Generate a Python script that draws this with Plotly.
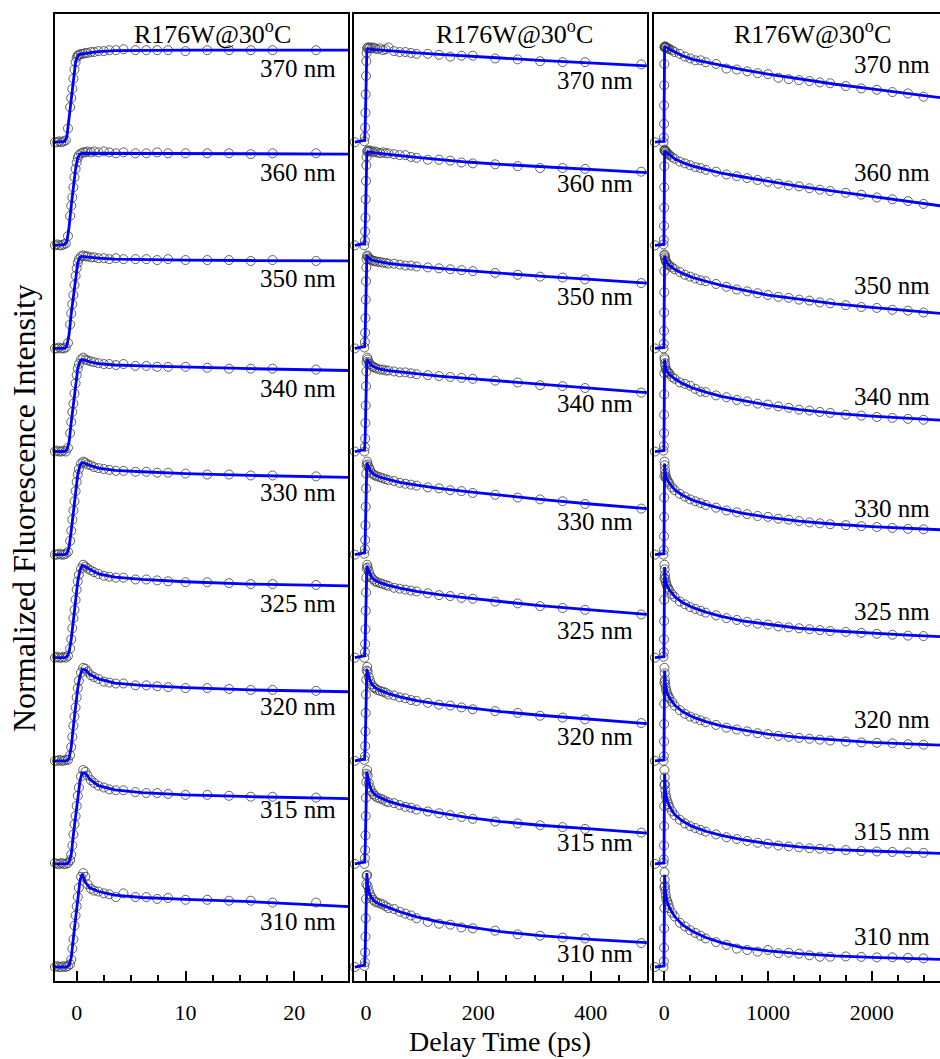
import plotly.graph_objects as go

# ---------------------------------------------------------------------------
# Femtosecond-resolved fluorescence transients of R176W at 30 °C,
# nine emission wavelengths, three delay windows (25 ps, 500 ps, 2.6 ns).
# Each transient is normalised to its peak; traces are stacked by OFFSET.
# ---------------------------------------------------------------------------
wavelengths = [310, 315, 320, 325, 330, 340, 350, 360, 370]
OFFSET = 1.12

# ----- window A: -2 .. 25 ps -------------------------------------------------
t_a = [-2.0, -1.8, -1.6, -1.4, -1.2, -1.0, -0.8, -0.6, -0.5, -0.4, -0.3, -0.2,
       -0.1, 0.0, 0.1, 0.2, 0.4, 0.6, 0.8, 1.0, 1.3, 1.6, 2.0, 2.5, 3.0, 3.6,
       4.3, 5.4, 6.4, 7.4, 8.4, 10, 12, 14, 16, 18, 22]
t_a_fit = [-2.0, -1.1, -0.9, -0.7, -0.5, -0.3, -0.1, 0.1, 0.3, 0.5, 0.8, 1.2,
           2.0, 3.5, 6, 10, 16, 25]

a370 = [0.0, 0.0, 0.01, 0.0, 0.01, 0.02, 0.15, 0.38, 0.48, 0.58, 0.69, 0.79, 0.87, 0.92, 0.94, 0.95,
        0.96, 0.96, 0.97, 0.97, 0.98, 0.98, 0.99, 0.99, 1.0, 1.0, 1.01, 1.0, 1.0, 1.0, 1.0, 0.99, 1.0, 1.0, 1.0, 1.0, 1.0]
a360 = [0, 0.01, 0, 0, 0.01, 0.02, 0.1, 0.32, 0.43, 0.52, 0.63, 0.74, 0.83, 0.9, 0.95, 0.98,
        1.0, 1.01, 1.01, 1.02, 1.01, 1.02, 1.01, 1.02, 1.01, 1.0, 1.01, 1.0, 1.0, 1.01, 1.0, 1.0, 1.0, 1.0, 0.99, 1.0, 1.0]
a350 = [0, 0, 0.01, 0, 0, 0.01, 0.06, 0.26, 0.38, 0.48, 0.58, 0.69, 0.79, 0.87, 0.93, 0.97,
        1.0, 1.01, 1.0, 1.0, 0.99, 0.99, 0.98, 0.98, 0.97, 0.98, 0.97, 0.97, 0.97, 0.96, 0.97, 0.96, 0.96, 0.96, 0.95, 0.96, 0.95]
a340 = [0, 0.01, 0, 0, 0.01, 0, 0.04, 0.2, 0.32, 0.43, 0.52, 0.63, 0.74, 0.83, 0.9, 0.95,
        1.0, 1.02, 1.0, 0.99, 0.98, 0.97, 0.96, 0.95, 0.95, 0.94, 0.95, 0.93, 0.93, 0.92, 0.92, 0.92, 0.91, 0.9, 0.9, 0.9, 0.89]
a330 = [0, 0, 0.01, 0, 0, 0.01, 0.03, 0.15, 0.26, 0.38, 0.48, 0.58, 0.69, 0.79, 0.87, 0.93,
        0.99, 1.01, 1.0, 0.98, 0.97, 0.95, 0.94, 0.93, 0.92, 0.91, 0.91, 0.9, 0.9, 0.89, 0.89, 0.88, 0.87, 0.87, 0.86, 0.86, 0.85]
a325 = [0, 0.01, 0, 0, 0.01, 0, 0.02, 0.1, 0.2, 0.32, 0.43, 0.52, 0.63, 0.74, 0.83, 0.9,
        0.97, 1.01, 0.99, 0.97, 0.95, 0.93, 0.91, 0.89, 0.88, 0.87, 0.87, 0.85, 0.85, 0.84, 0.83, 0.82, 0.82, 0.81, 0.8, 0.8, 0.79]
a320 = [0, 0, 0.01, 0, 0, 0.01, 0.01, 0.06, 0.15, 0.26, 0.38, 0.48, 0.58, 0.69, 0.79, 0.87,
        0.96, 1.01, 1.0, 0.97, 0.93, 0.91, 0.89, 0.86, 0.85, 0.84, 0.84, 0.82, 0.82, 0.81, 0.8, 0.79, 0.79, 0.78, 0.77, 0.77, 0.76]
a315 = [0.01, 0, 0, 0.01, 0, 0, 0.01, 0.04, 0.1, 0.2, 0.32, 0.43, 0.52, 0.63, 0.74, 0.83,
        0.95, 1.02, 1.0, 0.96, 0.91, 0.88, 0.85, 0.83, 0.81, 0.8, 0.8, 0.78, 0.77, 0.77, 0.76, 0.75, 0.75, 0.74, 0.73, 0.73, 0.72]
a310 = [0, 0.01, 0, 0, 0.01, 0, 0.01, 0.03, 0.08, 0.2, 0.3, 0.45, 0.56, 0.66, 0.76, 0.86,
        0.98, 1.02, 0.98, 0.9, 0.85, 0.83, 0.82, 0.8, 0.79, 0.76, 0.8, 0.76, 0.76, 0.74, 0.75, 0.73, 0.73, 0.72, 0.72, 0.7, 0.7]

a370_fit = [0, 0.01, 0.06, 0.26, 0.48, 0.69, 0.87, 0.94, 0.955, 0.96, 0.965, 0.975, 0.985, 0.995, 1.0, 1.0, 1.0, 1.0]
a360_fit = [0, 0.01, 0.04, 0.2, 0.43, 0.63, 0.83, 0.95, 0.99, 1.0, 1.0, 1.0, 1.0, 1.0, 1.0, 1.0, 0.995, 0.99]
a350_fit = [0, 0, 0.03, 0.15, 0.38, 0.58, 0.79, 0.93, 0.99, 1.0, 0.995, 0.99, 0.98, 0.97, 0.965, 0.96, 0.955, 0.95]
a340_fit = [0, 0, 0.02, 0.1, 0.32, 0.52, 0.74, 0.9, 0.98, 1.0, 0.99, 0.975, 0.955, 0.94, 0.93, 0.915, 0.9, 0.88]
a330_fit = [0, 0, 0.01, 0.08, 0.26, 0.48, 0.69, 0.87, 0.97, 1.0, 0.99, 0.97, 0.94, 0.915, 0.9, 0.88, 0.86, 0.84]
a325_fit = [0, 0, 0.01, 0.06, 0.2, 0.43, 0.63, 0.83, 0.95, 1.0, 0.99, 0.96, 0.91, 0.875, 0.85, 0.825, 0.8, 0.78]
a320_fit = [0, 0, 0, 0.03, 0.15, 0.38, 0.58, 0.79, 0.92, 0.99, 0.99, 0.94, 0.89, 0.845, 0.82, 0.795, 0.77, 0.75]
a315_fit = [0, 0, 0, 0.02, 0.1, 0.32, 0.52, 0.74, 0.9, 0.99, 0.99, 0.92, 0.85, 0.805, 0.775, 0.75, 0.73, 0.71]
a310_fit = [0, 0, 0, 0.02, 0.1, 0.32, 0.55, 0.78, 0.94, 1.01, 0.92, 0.86, 0.82, 0.78, 0.755, 0.735, 0.71, 0.655]

# ----- window B: -20 .. 500 ps ----------------------------------------------
t_b = [-20, -3, -2, -1.5, -1, -0.5, 0, 0.5, 1, 2, 3, 5, 7, 10, 13, 16, 20, 25, 30,
       35, 40, 50, 60, 70, 80, 90, 110, 130, 150, 170, 190, 230, 270, 310, 350, 390, 490]
t_b_fit = [-20, -2.5, -1.5, -0.5, 0.5, 1.5, 3, 6, 10, 16, 25, 40, 60, 90, 130, 180,
           240, 310, 400, 500]

b370 = [0, 0.01, 0.06, 0.16, 0.32, 0.52, 0.72, 0.88, 0.97,
        1.02, 1.03, 1.02, 1.03, 1.02, 1.03, 1.02, 1.01, 1.02, 1.0, 1.01, 1.03,
        0.99, 0.98, 0.98, 0.97, 0.96, 0.96, 0.95, 0.93, 0.94, 0.94,
        0.91, 0.9, 0.88, 0.87, 0.87, 0.845]
b360 = [0, 0.0, 0.05, 0.15, 0.3, 0.5, 0.7, 0.87, 0.96,
        1.02, 1.03, 1.02, 1.03, 1.02, 1.01, 1.02, 1.01, 1.0, 1.01, 1.0, 1.0,
        0.99, 0.98, 0.98, 0.96, 0.95, 0.93, 0.93, 0.92, 0.9, 0.89,
        0.88, 0.86, 0.84, 0.84, 0.83, 0.8]
b350 = [0, 0.01, 0.07, 0.17, 0.33, 0.53, 0.73, 0.88, 0.97,
        1.01, 1.0, 0.98, 0.97, 0.96, 0.95, 0.95, 0.94, 0.94, 0.93, 0.93, 0.92,
        0.92, 0.91, 0.9, 0.9, 0.89, 0.88, 0.87, 0.86, 0.85, 0.84,
        0.82, 0.8, 0.78, 0.77, 0.75, 0.71]
b340 = [0, 0.0, 0.05, 0.14, 0.31, 0.5, 0.71, 0.87, 0.97,
        1.02, 1.0, 0.97, 0.95, 0.93, 0.92, 0.91, 0.9, 0.89, 0.89, 0.88, 0.88,
        0.87, 0.86, 0.86, 0.85, 0.84, 0.83, 0.82, 0.81, 0.8, 0.79,
        0.77, 0.75, 0.72, 0.71, 0.69, 0.64]
b330 = [0, 0.01, 0.06, 0.16, 0.32, 0.52, 0.72, 0.88, 0.97,
        1.01, 0.98, 0.95, 0.92, 0.89, 0.87, 0.86, 0.85, 0.84, 0.83, 0.82, 0.81,
        0.8, 0.78, 0.77, 0.76, 0.75, 0.73, 0.72, 0.7, 0.69, 0.67,
        0.65, 0.62, 0.6, 0.58, 0.55, 0.5]
b325 = [0, 0.0, 0.06, 0.15, 0.31, 0.51, 0.71, 0.87, 0.97,
        1.01, 0.98, 0.94, 0.9, 0.87, 0.85, 0.83, 0.82, 0.81, 0.8, 0.79, 0.78,
        0.76, 0.75, 0.74, 0.73, 0.72, 0.7, 0.68, 0.67, 0.65, 0.64,
        0.61, 0.59, 0.56, 0.54, 0.52, 0.47]
b320 = [0, 0.01, 0.05, 0.16, 0.32, 0.52, 0.72, 0.88, 0.98,
        1.02, 0.97, 0.91, 0.87, 0.83, 0.8, 0.79, 0.77, 0.76, 0.75, 0.74, 0.72,
        0.71, 0.69, 0.68, 0.66, 0.65, 0.63, 0.61, 0.6, 0.58, 0.56,
        0.54, 0.52, 0.49, 0.47, 0.45, 0.41]
b315 = [0, 0.0, 0.06, 0.15, 0.31, 0.52, 0.72, 0.89, 0.98,
        1.02, 0.96, 0.88, 0.83, 0.79, 0.76, 0.74, 0.72, 0.71, 0.7, 0.68, 0.67,
        0.66, 0.64, 0.62, 0.61, 0.59, 0.57, 0.55, 0.53, 0.51, 0.49,
        0.46, 0.44, 0.42, 0.4, 0.38, 0.34]
b310 = [0, 0.01, 0.05, 0.16, 0.33, 0.53, 0.74, 0.9, 0.99,
        1.0, 0.88, 0.83, 0.79, 0.76, 0.73, 0.71, 0.7, 0.69, 0.68, 0.66, 0.64,
        0.63, 0.6, 0.58, 0.56, 0.53, 0.49, 0.47, 0.46, 0.43, 0.42,
        0.395, 0.355, 0.34, 0.32, 0.31, 0.26]

b370_fit = [0, 0.02, 0.16, 0.52, 0.88, 1.0, 1.015, 1.015, 1.01, 1.005, 1.0, 0.995, 0.985, 0.97, 0.955, 0.94, 0.915, 0.89, 0.865, 0.83]
b360_fit = [0, 0.02, 0.16, 0.52, 0.88, 1.0, 1.015, 1.015, 1.01, 1.005, 1.0, 0.99, 0.975, 0.955, 0.93, 0.905, 0.88, 0.855, 0.825, 0.79]
b350_fit = [0, 0.02, 0.16, 0.52, 0.88, 1.0, 0.995, 0.975, 0.96, 0.95, 0.94, 0.925, 0.91, 0.89, 0.87, 0.845, 0.815, 0.785, 0.75, 0.71]
b340_fit = [0, 0.02, 0.16, 0.52, 0.88, 1.0, 0.99, 0.96, 0.935, 0.915, 0.895, 0.88, 0.865, 0.845, 0.82, 0.795, 0.765, 0.73, 0.685, 0.64]
b330_fit = [0, 0.02, 0.16, 0.52, 0.88, 1.0, 0.975, 0.93, 0.895, 0.865, 0.84, 0.815, 0.785, 0.755, 0.72, 0.685, 0.645, 0.6, 0.55, 0.5]
b325_fit = [0, 0.02, 0.16, 0.52, 0.88, 1.0, 0.97, 0.92, 0.875, 0.84, 0.815, 0.785, 0.755, 0.72, 0.685, 0.65, 0.61, 0.565, 0.52, 0.47]
b320_fit = [0, 0.02, 0.16, 0.52, 0.88, 1.0, 0.96, 0.89, 0.835, 0.795, 0.765, 0.73, 0.695, 0.655, 0.615, 0.575, 0.535, 0.495, 0.45, 0.405]
b315_fit = [0, 0.02, 0.16, 0.52, 0.88, 1.0, 0.95, 0.86, 0.795, 0.75, 0.72, 0.68, 0.645, 0.6, 0.555, 0.505, 0.46, 0.42, 0.38, 0.335]
b310_fit = [0, 0.02, 0.16, 0.55, 0.9, 1.02, 0.9, 0.8, 0.75, 0.71, 0.68, 0.645, 0.6, 0.545, 0.49, 0.44, 0.385, 0.34, 0.3, 0.265]

# ----- window C: -90 .. 2660 ps ---------------------------------------------
t_c = [-90, -8, -4, -2, -1, 0, 1, 2, 4, 7, 10, 15, 20, 30, 40, 50, 75, 100, 150,
       200, 250, 300, 350, 400, 500, 600, 700, 800, 900, 1000, 1100, 1200, 1300,
       1400, 1500, 1600, 1750, 1900, 2050, 2200, 2350, 2500]
t_c_fit = [-90, -3, -1, 1, 3, 10, 25, 50, 100, 175, 275, 400, 550, 750, 1000, 1300,
           1650, 2000, 2350, 2660]

c370 = [0, 0.0, 0.05, 0.2, 0.4, 0.62, 0.85,
        1.03, 1.04, 1.03, 1.04, 1.03, 1.03, 1.02, 1.02, 1.01,
        1.0, 0.98, 0.96, 0.93, 0.91, 0.89, 0.89, 0.87,
        0.85, 0.8, 0.79, 0.77, 0.75, 0.74, 0.7, 0.685, 0.675, 0.665, 0.65, 0.64,
        0.61, 0.585, 0.57, 0.545, 0.53, 0.495]
c360 = [0, 0.01, 0.06, 0.21, 0.41, 0.63, 0.86,
        1.03, 1.04, 1.03, 1.02, 1.02, 1.01, 1.0, 0.99, 0.98,
        0.96, 0.94, 0.91, 0.89, 0.87, 0.85, 0.84, 0.82,
        0.8, 0.77, 0.75, 0.73, 0.71, 0.69, 0.67, 0.65, 0.64, 0.62, 0.605, 0.59,
        0.57, 0.55, 0.52, 0.5, 0.48, 0.45]
c350 = [0, 0.0, 0.05, 0.19, 0.39, 0.61, 0.84,
        1.02, 1.01, 0.99, 0.97, 0.95, 0.94, 0.92, 0.91, 0.9,
        0.88, 0.86, 0.83, 0.8, 0.78, 0.76, 0.74, 0.73,
        0.7, 0.67, 0.64, 0.62, 0.6, 0.58, 0.56, 0.55, 0.53, 0.52, 0.5, 0.49,
        0.47, 0.45, 0.44, 0.42, 0.41, 0.39]
c340 = [0, 0.01, 0.06, 0.2, 0.4, 0.62, 0.85,
        1.02, 1.0, 0.96, 0.93, 0.9, 0.88, 0.87, 0.86, 0.845,
        0.81, 0.79, 0.75, 0.735, 0.715, 0.68, 0.65, 0.645,
        0.61, 0.59, 0.56, 0.545, 0.52, 0.51, 0.49, 0.475, 0.455, 0.445, 0.43, 0.42,
        0.4, 0.39, 0.375, 0.365, 0.355, 0.345]
c330 = [0, 0.0, 0.05, 0.2, 0.41, 0.62, 0.85,
        1.01, 0.97, 0.92, 0.88, 0.85, 0.83, 0.81, 0.79, 0.77,
        0.73, 0.7, 0.66, 0.63, 0.6, 0.58, 0.56, 0.54,
        0.51, 0.48, 0.46, 0.44, 0.42, 0.41, 0.39, 0.38, 0.365, 0.35, 0.34, 0.33,
        0.32, 0.31, 0.3, 0.29, 0.28, 0.275]
c325 = [0, 0.01, 0.06, 0.2, 0.4, 0.63, 0.86,
        1.01, 0.96, 0.9, 0.86, 0.82, 0.8, 0.77, 0.75, 0.73,
        0.69, 0.66, 0.61, 0.58, 0.55, 0.53, 0.51, 0.49,
        0.46, 0.43, 0.41, 0.39, 0.37, 0.36, 0.34, 0.33, 0.32, 0.31, 0.3, 0.29,
        0.28, 0.27, 0.26, 0.25, 0.24, 0.235]
c320 = [0, 0.0, 0.05, 0.21, 0.4, 0.62, 0.85,
        1.01, 0.95, 0.88, 0.83, 0.79, 0.76, 0.73, 0.7, 0.68,
        0.64, 0.6, 0.55, 0.51, 0.48, 0.46, 0.44, 0.42,
        0.39, 0.36, 0.34, 0.32, 0.3, 0.29, 0.27, 0.26, 0.25, 0.24, 0.23, 0.22,
        0.21, 0.2, 0.195, 0.19, 0.18, 0.175]
c315 = [0, 0.01, 0.05, 0.2, 0.41, 0.63, 0.86,
        1.02, 0.94, 0.86, 0.8, 0.75, 0.72, 0.68, 0.65, 0.62,
        0.57, 0.53, 0.48, 0.44, 0.41, 0.39, 0.37, 0.35,
        0.32, 0.29, 0.27, 0.25, 0.23, 0.22, 0.2, 0.19, 0.18, 0.17, 0.165, 0.16,
        0.15, 0.14, 0.135, 0.13, 0.125, 0.12]
c310 = [0, 0.0, 0.06, 0.21, 0.42, 0.64, 0.87,
        1.03, 0.95, 0.88, 0.83, 0.78, 0.74, 0.71, 0.68, 0.64,
        0.59, 0.55, 0.48, 0.44, 0.4, 0.37, 0.34, 0.31,
        0.27, 0.24, 0.2, 0.185, 0.167, 0.185, 0.15, 0.155, 0.145, 0.127, 0.112, 0.112,
        0.115, 0.11, 0.105, 0.105, 0.1, 0.094]

c370_fit = [0, 0.01, 0.4, 0.9, 1.03, 1.035, 1.03, 1.01, 0.98, 0.94, 0.9, 0.87, 0.83, 0.79, 0.74, 0.69, 0.63, 0.58, 0.53, 0.485]
c360_fit = [0, 0.01, 0.4, 0.9, 1.03, 1.02, 1.005, 0.98, 0.94, 0.9, 0.86, 0.825, 0.785, 0.745, 0.695, 0.64, 0.585, 0.53, 0.48, 0.43]
c350_fit = [0, 0.01, 0.4, 0.9, 1.01, 0.97, 0.93, 0.9, 0.86, 0.815, 0.77, 0.73, 0.685, 0.635, 0.58, 0.535, 0.485, 0.445, 0.41, 0.38]
c340_fit = [0, 0.01, 0.4, 0.9, 1.0, 0.93, 0.875, 0.84, 0.79, 0.74, 0.69, 0.645, 0.6, 0.555, 0.505, 0.455, 0.415, 0.385, 0.36, 0.34]
c330_fit = [0, 0.01, 0.4, 0.9, 0.99, 0.885, 0.82, 0.775, 0.705, 0.645, 0.59, 0.545, 0.5, 0.45, 0.405, 0.365, 0.33, 0.305, 0.285, 0.27]
c325_fit = [0, 0.01, 0.4, 0.9, 0.985, 0.865, 0.785, 0.735, 0.665, 0.6, 0.545, 0.495, 0.45, 0.4, 0.36, 0.32, 0.29, 0.265, 0.245, 0.23]
c320_fit = [0, 0.01, 0.4, 0.9, 0.98, 0.84, 0.745, 0.685, 0.605, 0.535, 0.475, 0.425, 0.38, 0.335, 0.29, 0.255, 0.225, 0.2, 0.185, 0.17]
c315_fit = [0, 0.01, 0.4, 0.9, 0.98, 0.81, 0.7, 0.625, 0.535, 0.465, 0.405, 0.355, 0.31, 0.265, 0.22, 0.185, 0.155, 0.14, 0.125, 0.115]
c310_fit = [0, 0.01, 0.4, 0.9, 1.0, 0.83, 0.72, 0.645, 0.55, 0.46, 0.385, 0.32, 0.265, 0.21, 0.175, 0.145, 0.12, 0.105, 0.093, 0.083]

# wavelength tags: height above each trace's baseline (normalised units)
tag_rise_a = [0.49, 0.59, 0.59, 0.59, 0.67, 0.68, 0.76, 0.79, 0.80]
tag_rise_b = [0.15, 0.23, 0.26, 0.30, 0.36, 0.52, 0.56, 0.67, 0.67]
tag_rise_c = [0.33, 0.35, 0.45, 0.50, 0.50, 0.60, 0.68, 0.79, 0.84]

# ---------------------------------------------------------------------------
SERIF = "Liberation Serif, Times New Roman, Times, serif"
W, H = 940, 1059
TOP_PX, BOTTOM_PX = 14, 981
Y_RANGE = [-0.152, 10.353]

panels = [
    dict(ax="", t=t_a, tf=t_a_fit,
         pts=[a310, a315, a320, a325, a330, a340, a350, a360, a370],
         fit=[a310_fit, a315_fit, a320_fit, a325_fit, a330_fit, a340_fit, a350_fit, a360_fit, a370_fit],
         tags=tag_rise_a, tag_x=24.0, px=(54.7, 348.3), rng=[-2.02, 24.96],
         dtick=10, minor=2.5, title_x=212, mirror_y=True),
    dict(ax="2", t=t_b, tf=t_b_fit,
         pts=[b310, b315, b320, b325, b330, b340, b350, b360, b370],
         fit=[b310_fit, b315_fit, b320_fit, b325_fit, b330_fit, b340_fit, b350_fit, b360_fit, b370_fit],
         tags=tag_rise_b, tag_x=479, px=(354.0, 647.3), rng=[-21.4, 500.8],
         dtick=200, minor=50, title_x=514, mirror_y=True),
    dict(ax="3", t=t_c, tf=t_c_fit,
         pts=[c310, c315, c320, c325, c330, c340, c350, c360, c370],
         fit=[c310_fit, c315_fit, c320_fit, c325_fit, c330_fit, c340_fit, c350_fit, c360_fit, c370_fit],
         tags=tag_rise_c, tag_x=2581, px=(654.0, 940.0), rng=[-99, 2659],
         dtick=1000, minor=250, title_x=812, mirror_y=False),
]

fig = go.Figure()
annotations = []

for p in panels:
    xa, ya = "x" + p["ax"], "y" + p["ax"]
    # measured points first, fitted curves drawn over them
    for i, wl in enumerate(wavelengths):
        base = i * OFFSET
        fig.add_trace(go.Scatter(
            x=p["t"], y=[v + base for v in p["pts"][i]], xaxis=xa, yaxis=ya,
            mode="markers", cliponaxis=False, showlegend=False,
            marker=dict(symbol="circle-open", size=9, color="rgba(60,60,60,0.8)",
                        line=dict(width=1))))
    for i, wl in enumerate(wavelengths):
        base = i * OFFSET
        fig.add_trace(go.Scatter(
            x=p["tf"], y=[v + base for v in p["fit"][i]], xaxis=xa, yaxis=ya,
            mode="lines", showlegend=False,
            line=dict(color="#0000FF", width=2.8)))
        annotations.append(dict(
            x=p["tag_x"], y=base + p["tags"][i], xref=xa, yref=ya,
            text=f"{wl} nm", showarrow=False, xanchor="right", yanchor="middle",
            font=dict(family=SERIF, size=25, color="black")))
    annotations.append(dict(
        x=p["title_x"] / W, y=1 - 32 / H, xref="paper", yref="paper",
        text="R176W@30<sup>o</sup>C", showarrow=False, xanchor="center", yanchor="middle",
        font=dict(family=SERIF, size=26, color="black")))

annotations.append(dict(
    x=500 / W, y=1 - 1041 / H, xref="paper", yref="paper", text="Delay Time (ps)",
    showarrow=False, xanchor="center", yanchor="middle",
    font=dict(family=SERIF, size=28, color="black")))
annotations.append(dict(
    x=24 / W, y=1 - 508 / H, xref="paper", yref="paper",
    text="Normalized Fluorescence Intensity", textangle=-90,
    showarrow=False, xanchor="center", yanchor="middle",
    font=dict(family=SERIF, size=32, color="black")))

layout = dict(
    width=W, height=H, margin=dict(l=0, r=0, t=0, b=0),
    paper_bgcolor="white", plot_bgcolor="white",
    font=dict(family=SERIF, color="black"),
    annotations=annotations, showlegend=False,
)
y_dom = [1 - BOTTOM_PX / H, 1 - TOP_PX / H]
for p in panels:
    xkey = "xaxis" + p["ax"]
    ykey = "yaxis" + p["ax"]
    layout[xkey] = dict(
        domain=[p["px"][0] / W, p["px"][1] / W], range=p["rng"], anchor="y" + p["ax"],
        showline=True, linecolor="black", linewidth=2, mirror=True,
        ticks="inside", ticklen=10, tickwidth=2, tickcolor="black",
        tick0=0, dtick=p["dtick"], showgrid=False, zeroline=False,
        ticklabelstandoff=11,
        minor=dict(ticks="inside", ticklen=6, tickwidth=2, tickcolor="black",
                   dtick=p["minor"], tick0=0, showgrid=False),
        tickfont=dict(family=SERIF, size=22, color="black"),
    )
    layout[ykey] = dict(
        domain=y_dom, range=Y_RANGE, anchor="x" + p["ax"],
        showline=True, linecolor="black", linewidth=2, mirror=p["mirror_y"],
        ticks="", showticklabels=False, showgrid=False, zeroline=False,
    )

fig.update_layout(**layout)
fig.write_html("out.html")
